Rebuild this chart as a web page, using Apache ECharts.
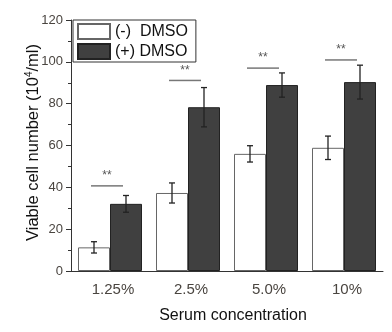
<!DOCTYPE html>
<html><head><meta charset="utf-8">
<script src="https://cdn.jsdelivr.net/npm/echarts@6/dist/echarts.min.js"></script>
<style>html,body{margin:0;padding:0;background:#fff}#c{width:392px;height:332px}</style>
</head><body><div id="c"></div>
<script>
const categories = ['1.25%', '2.5%', '5.0%', '10%'];
const minusDMSO = [11.3, 37.3, 56.0, 58.9];
const minusErr = [2.7, 4.8, 3.9, 5.6];
const plusDMSO = [32.1, 78.3, 88.9, 90.3];
const plusErr = [4.0, 9.4, 5.8, 8.1];
const sigLevel = [40.7, 91.1, 97.0, 100.9];
const sigText = ['**', '**', '**', '**'];
const yTicks = [0, 20, 40, 60, 80, 100, 120];

const font = 'Liberation Sans, Arial, sans-serif';
const chart = echarts.init(document.getElementById('c'), null, {renderer: 'canvas'});

function errData(vals, errs) {
  return vals.map((v, i) => [i, v - errs[i], v + errs[i]]);
}
function errRender(offsetSign) {
  return function (params, api) {
    const i = api.value(0);
    const bw = 32;
    const lo = api.coord([i, api.value(1)]);
    const hi = api.coord([i, api.value(2)]);
    const x = lo[0] + offsetSign * bw / 2;
    const cap = 3;
    const st = {stroke: '#222', lineWidth: 1.3};
    return {type: 'group', children: [
      {type: 'line', shape: {x1: x, y1: hi[1], x2: x, y2: lo[1]}, style: st},
      {type: 'line', shape: {x1: x - cap, y1: hi[1], x2: x + cap, y2: hi[1]}, style: st},
      {type: 'line', shape: {x1: x - cap, y1: lo[1], x2: x + cap, y2: lo[1]}, style: st}
    ]};
  };
}

const option = {
  animation: false,
  textStyle: {fontFamily: font},
  grid: {left: 71, right: 9, top: 20, bottom: 61, containLabel: false},
  legend: {
    orient: 'vertical', left: 73, top: 20,
    data: ['(-)  DMSO', '(+) DMSO'],
    itemWidth: 32, itemHeight: 15, itemGap: 3,
    borderColor: '#333', borderWidth: 1, padding: [3, 8, 2, 4],
    icon: 'rect',
    textStyle: {fontSize: 16, color: '#111', fontFamily: font, padding: [0, 0, 0, 0]}
  },
  xAxis: [{
    type: 'category', data: categories, position: 'bottom',
    axisLine: {lineStyle: {color: '#333', width: 1}},
    axisTick: {alignWithLabel: true, length: 5, lineStyle: {color: '#333'}},
    axisLabel: {fontSize: 15, color: '#4a4540', margin: 11, fontFamily: font, padding: [0, 0, 0, 6]},
    name: 'Serum concentration', nameLocation: 'middle', nameGap: 37, nameMoveOverlap: false,
    nameTextStyle: {fontSize: 16, color: '#111', fontFamily: font, padding: [0, 0, 0, 12]}
  }, {
    type: 'category', data: categories, position: 'bottom',
    axisLine: {show: false},
    axisTick: {length: 3, lineStyle: {color: '#333'}},
    axisLabel: {show: false}
  }],
  yAxis: {
    type: 'value', min: 0, max: 120, interval: 20,
    axisLine: {show: true, lineStyle: {color: '#333', width: 1}},
    axisTick: {show: true, length: 5, lineStyle: {color: '#333'}},
    minorTick: {show: true, splitNumber: 2, length: 3, lineStyle: {color: '#333'}},
    splitLine: {show: false},
    axisLabel: {fontSize: 13, color: '#4a4540', margin: 8, fontFamily: font,
      formatter: v => yTicks.includes(v) ? String(v) : ''},
    name: 'Viable cell number (10{sup|4}/ml)', nameLocation: 'middle', nameGap: 29, nameRotate: 90,
    nameMoveOverlap: false,
    nameTextStyle: {fontSize: 16.5, color: '#111', fontFamily: font, padding: [0, 0, 0, 6],
      rich: {sup: {fontSize: 10, verticalAlign: 'top', padding: [0, 0, 8, 0], fontFamily: font, color: '#111'}}}
  },
  series: [
    {name: '(-)  DMSO', type: 'bar', data: minusDMSO, barWidth: 32, barGap: '0%',
      itemStyle: {color: '#ffffff', borderColor: '#666', borderWidth: 1}},
    {name: '(+) DMSO', type: 'bar', data: plusDMSO, barWidth: 32, barGap: '0%',
      itemStyle: {color: '#404040', borderColor: '#222', borderWidth: 1}},
    {type: 'custom', data: errData(minusDMSO, minusErr), renderItem: errRender(-1), z: 5},
    {type: 'custom', data: errData(plusDMSO, plusErr), renderItem: errRender(1), z: 5},
    {type: 'custom', data: sigLevel.map((v, i) => [i, v]), z: 5,
      renderItem: function (params, api) {
        const i = api.value(0);
        const p = api.coord([i, api.value(1)]);
        const x1 = p[0] - 19, x2 = p[0] + 13;
        return {type: 'group', children: [
          {type: 'line', shape: {x1: x1, y1: p[1], x2: x2, y2: p[1]}, style: {stroke: '#777', lineWidth: 1.5}},
          {type: 'text', style: {text: sigText[i], x: (x1 + x2) / 2, y: p[1] - 4, align: 'center', verticalAlign: 'bottom',
            fontSize: 12, fontFamily: font, fill: '#555'}}
        ]};
      }}
  ]
};
chart.setOption(option);
</script>
</body></html>
